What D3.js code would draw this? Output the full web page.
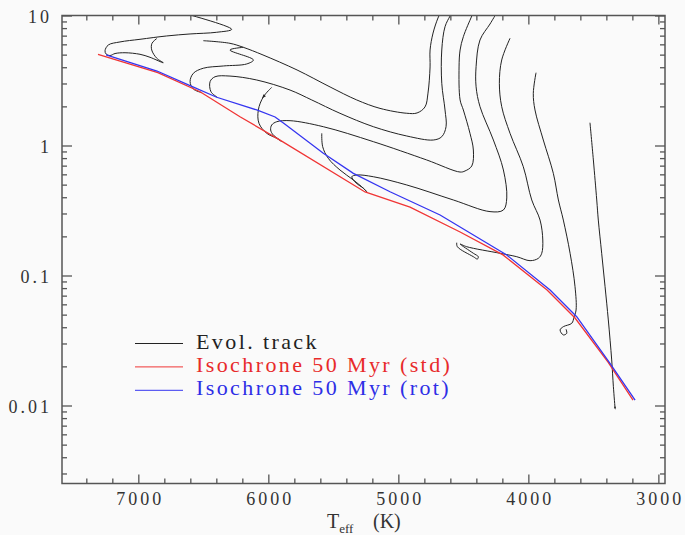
<!DOCTYPE html>
<html>
<head>
<meta charset="utf-8">
<script src="https://cdn.jsdelivr.net/npm/d3@7"></script>
<style>
html, body { margin: 0; padding: 0; background: #fafafa; }
svg text { font-family: "Liberation Serif", "Times New Roman", serif; }
</style>
</head>
<body>
<div id="chart"></div>
<script>
// isochrones, [Teff, L]
var isoStd = [[7310,5.03],[6850,3.64],[6525,2.59],[6218,1.665],[5910,1.10],[5256,0.439],[4910,0.336],
              [4525,0.216],[4195,0.144],[3856,0.0773],[3641,0.0471],[3387,0.0216],[3195,0.0110]];
var isoRot = [[7248,4.97],[6856,3.74],[6602,2.89],[6397,2.35],[6089,1.876],[5948,1.657],[5879,1.476],
              [5577,0.871],[5346,0.611],[5064,0.441],[4679,0.292],[4166,0.1438],[3833,0.0773],
              [3628,0.0482],[3372,0.0211],[3179,0.0110]];

// evolutionary tracks, [Teff, L]
var track1 = [[6679,10.6],[6282,7.83],[6397,7.43],[6602,7.21],[6782,6.96],[6987,6.56],[7141,6.26],[7231,5.93],
              [7256,5.36],[7248,5.06],[7218,4.92],[7179,5.10],[7102,5.17],[6987,5.03],[6910,4.77],[6808,4.33],
              [6858,4.69],[6897,5.43],[6895,6.11],[6858,6.65]];
var track2 = [[4672,10.64],[4695,9.57],[4733,7.33],[4756,5.43],[4756,4.02],[4772,2.53],[4795,1.98],[4856,1.78],
              [4935,1.77],[5141,1.93],[5320,2.24],[5525,2.82],[5779,3.81],[6041,4.97],[6192,5.69],[6295,6.11],
              [6500,6.40]];
var track2b = [[6192,5.69],[6295,5.43],[6115,4.55],[6166,4.24],[6346,4.09],[6500,3.93],[6577,3.59],[6602,3.10],
               [6577,2.72],[6512,2.55]];
var track3 = [[4579,10.83],[4602,9.91],[4641,8.20],[4666,5.43],[4666,3.01],[4641,1.876],[4633,1.395],[4666,1.169],
              [4731,1.102],[4935,1.183],[5192,1.395],[5449,1.769],[5666,2.24],[5833,2.67],[6089,3.19],[6295,3.42],
              [6410,3.38],[6448,3.10],[6441,2.59],[6392,2.35]];
var track4 = [[4418,10.83],[4435,9.91],[4500,6.87],[4525,5.43],[4533,4.02],[4525,2.24],[4500,1.876],[4449,1.241],
              [4423,0.923],[4435,0.696],[4487,0.637],[4525,0.625],[4782,0.774],[5192,1.07],[5577,1.395],
              [5833,1.552],[5935,1.524],[5974,1.438],[5982,1.316],[5962,1.205],[5910,1.102]];
var track4b = [[5974,2.80],[6038,2.37],[6077,1.876],[6072,1.482],[6012,1.241],[5935,1.136],[5897,1.07]];
var track5 = [[4249,10.27],[4295,8.60],[4372,6.48],[4402,4.04],[4402,2.83],[4372,1.99],[4269,1.102],[4192,0.648],
              [4166,0.395],[4192,0.319],[4295,0.310],[4577,0.381],[4935,0.497],[5192,0.575],[5320,0.593],
              [5358,0.575],[5325,0.515],[5269,0.469],[5243,0.441]];
var track5b = [[5589,1.241],[5582,0.979],[5539,0.797],[5449,0.648],[5346,0.543],[5269,0.469],[5243,0.441]];
var track6 = [[4141,6.68],[4205,4.55],[4223,3.01],[4205,1.99],[4141,1.241],[4039,0.687],[3974,0.381],[3910,0.267],
              [3889,0.1875],[3897,0.1482],[3923,0.1356],[3987,0.130],[4089,0.1395],[4218,0.1482],[4474,0.1665],
              [4525,0.1747],[4423,0.1482],[4385,0.1395],[4392,0.1339],[4423,0.1395],[4546,0.1665],[4551,0.1788]];
var track7 = [[3941,3.63],[3962,2.52],[3949,1.876],[3885,1.102],[3808,0.611],[3769,0.381],[3731,0.267],[3679,0.1482],
              [3641,0.082],[3633,0.0543],[3649,0.0477],[3666,0.0429],[3731,0.0404],[3756,0.0381],[3731,0.0349],
              [3705,0.0359],[3710,0.0386]];
var track8 = [[3526,1.497],[3500,0.774],[3474,0.381],[3462,0.267],[3436,0.1482],[3410,0.082],[3385,0.0455],
              [3359,0.0224],[3346,0.01395],[3333,0.00952]];

var tracks = [track1, track2, track2b, track3, track4, track4b, track5, track5b, track6, track7, track8];

var xMajor = [7000, 6000, 5000, 4000, 3000];
var yMajor = [0.01, 0.1, 1, 10];

var legendLabels = ["Evol. track", "Isochrone 50 Myr (std)", "Isochrone 50 Myr (rot)"];
var legendColors = ["#222222", "#f03535", "#3535f0"];
var legendText = ["#222222", "#e82a2a", "#2e2ee6"];

var W = 685, H = 535;
var margin = {top: 15.5, right: 20, bottom: 51.5, left: 62};

var svg = d3.select("#chart").append("svg")
    .attr("width", W)
    .attr("height", H);

svg.append("rect").attr("width", W).attr("height", H).attr("fill", "#fafafa");

var x = d3.scaleLinear().domain([7587, 2949]).range([margin.left, W - margin.right]);
var y = d3.scaleLog().domain([Math.pow(10, -2.6), 10]).range([H - margin.bottom, margin.top]);

svg.append("clipPath").attr("id", "plotclip")
    .append("rect")
    .attr("x", margin.left).attr("y", margin.top)
    .attr("width", W - margin.left - margin.right)
    .attr("height", H - margin.top - margin.bottom);

var plot = svg.append("g").attr("clip-path", "url(#plotclip)");

var trackLine = d3.line()
    .x(function (d) { return x(d[0]); })
    .y(function (d) { return y(d[1]); })
    .curve(d3.curveCatmullRom.alpha(0.5));

var isoLine = d3.line()
    .x(function (d) { return x(d[0]); })
    .y(function (d) { return y(d[1]); });

plot.selectAll(".track")
    .data(tracks)
    .enter().append("path")
    .attr("class", "track")
    .attr("d", trackLine)
    .attr("fill", "none")
    .attr("stroke", "#222")
    .attr("stroke-width", 1);

// little arrow heads along some tracks
function arrowHead(p0, p1, s, w) {
    var ax = x(p1[0]), ay = y(p1[1]);
    var dx = ax - x(p0[0]), dy = ay - y(p0[1]);
    var len = Math.sqrt(dx * dx + dy * dy);
    dx /= len; dy /= len;
    var pts = [[ax + dx * s * 0.5, ay + dy * s * 0.5],
               [ax - dx * s * 0.5 + dy * w, ay - dy * s * 0.5 - dx * w],
               [ax - dx * s * 0.5 - dy * w, ay - dy * s * 0.5 + dx * w]];
    plot.append("path")
        .attr("d", "M" + pts.join("L") + "Z")
        .attr("fill", "#222");
}
arrowHead(track4b[0], track4b[1], 4, 1.6);
arrowHead(track8[track8.length - 2], track8[track8.length - 1], 3, 1);

plot.append("path")
    .attr("d", isoLine(isoStd))
    .attr("fill", "none")
    .attr("stroke", legendColors[1])
    .attr("stroke-width", 1.3);

plot.append("path")
    .attr("d", isoLine(isoRot))
    .attr("fill", "none")
    .attr("stroke", legendColors[2])
    .attr("stroke-width", 1.3);

// axes
var xMinor = d3.range(3000, 7600, 200).filter(function (v) { return v % 1000 !== 0; });
var yMinor = [];
[0.001, 0.01, 0.1, 1].forEach(function (dec) {
    for (var k = 2; k <= 9; k++) {
        var v = dec * k;
        if (v > y.domain()[0] && v < y.domain()[1]) yMinor.push(v);
    }
});

var tickColor = "#555";

function styleAxis(g) {
    g.select(".domain").remove();
    g.selectAll(".tick line").attr("stroke", tickColor).attr("stroke-width", 1.3);
    g.selectAll(".tick text")
        .attr("fill", "#333")
        .style("font-size", "18px")
        .style("letter-spacing", "3px");
}

var yFmt = function (d) { return d3.format("~g")(d); };

svg.append("g").attr("transform", "translate(0," + (H - margin.bottom) + ")")
    .call(d3.axisBottom(x).tickValues(xMajor).tickSize(-9).tickPadding(9).tickFormat(d3.format("d")))
    .call(styleAxis)
    .selectAll(".tick text").attr("dx", "1.5px");
svg.append("g").attr("transform", "translate(0," + (H - margin.bottom) + ")")
    .call(d3.axisBottom(x).tickValues(xMinor).tickSize(-5).tickFormat(""))
    .call(styleAxis);
svg.append("g").attr("transform", "translate(0," + margin.top + ")")
    .call(d3.axisTop(x).tickValues(xMajor).tickSize(-9).tickFormat(""))
    .call(styleAxis);
svg.append("g").attr("transform", "translate(0," + margin.top + ")")
    .call(d3.axisTop(x).tickValues(xMinor).tickSize(-5).tickFormat(""))
    .call(styleAxis);

svg.append("g").attr("transform", "translate(" + margin.left + ",0)")
    .call(d3.axisLeft(y).tickValues(yMajor).tickSize(-10).tickPadding(10).tickFormat(yFmt))
    .call(styleAxis)
    .selectAll(".tick text").attr("dy", "0.4em");
svg.append("g").attr("transform", "translate(" + margin.left + ",0)")
    .call(d3.axisLeft(y).tickValues(yMinor).tickSize(-5).tickFormat(""))
    .call(styleAxis);
svg.append("g").attr("transform", "translate(" + (W - margin.right) + ",0)")
    .call(d3.axisRight(y).tickValues(yMajor).tickSize(-10).tickFormat(""))
    .call(styleAxis);
svg.append("g").attr("transform", "translate(" + (W - margin.right) + ",0)")
    .call(d3.axisRight(y).tickValues(yMinor).tickSize(-5).tickFormat(""))
    .call(styleAxis);

svg.append("rect")
    .attr("x", margin.left).attr("y", margin.top)
    .attr("width", W - margin.left - margin.right)
    .attr("height", H - margin.top - margin.bottom)
    .attr("fill", "none")
    .attr("stroke", tickColor)
    .attr("stroke-width", 1.5);

// axis title: T_eff (K)
var xt = svg.append("text")
    .attr("x", 327).attr("y", 528)
    .attr("fill", "#333")
    .style("font-size", "20px");
xt.append("tspan").text("T");
xt.append("tspan").attr("dy", 5).style("font-size", "13px").text("eff");
xt.append("tspan").attr("x", 373).attr("dy", -5).text("(K)");

// legend
var legend = svg.append("g");
legendLabels.forEach(function (lab, i) {
    var ly = 343.5 + i * 23.4;
    legend.append("line")
        .attr("x1", 135).attr("x2", 183)
        .attr("y1", ly).attr("y2", ly)
        .attr("stroke", legendColors[i])
        .attr("stroke-width", 1);
    legend.append("text")
        .attr("x", 196).attr("y", ly + 5)
        .attr("fill", legendText[i])
        .style("font-size", "22px")
        .style("letter-spacing", "2.4px")
        .text(lab);
});
</script>
</body>
</html>
